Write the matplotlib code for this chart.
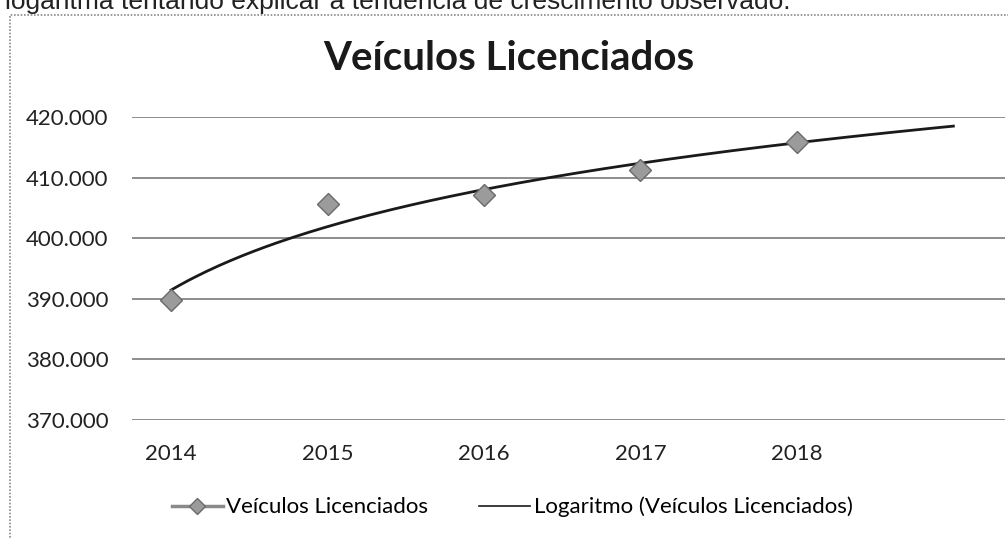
import numpy as np
import matplotlib
matplotlib.use("Agg")
import matplotlib.pyplot as plt
from matplotlib.lines import Line2D
from matplotlib.patches import Rectangle
from matplotlib.ticker import FuncFormatter

# ---- dados ----
anos = [2014, 2015, 2016, 2017, 2018]
veiculos = [389800, 405600, 407100, 411200, 415800]
ticks_y = [370000, 380000, 390000, 400000, 410000, 420000]
titulo = "Veículos Licenciados"
nome_serie = "Veículos Licenciados"
nome_tendencia = "Logaritmo (Veículos Licenciados)"
texto_topo = "logaritma tentando explicar a tendência de crescimento observado."

plt.rcParams["font.family"] = ["Lato", "DejaVu Sans"]

fig = plt.figure(figsize=(10.08, 5.39), dpi=100)
ax = fig.add_axes([132 / 1008, 1 - 420 / 539, (1005 - 132) / 1008, (420 - 117) / 539])

# tendência logarítmica (como no Excel: x = 1..n, previsão de 1 período)
idx = np.arange(1, len(anos) + 1)
a, b = np.polyfit(np.log(idx), veiculos, 1)
xt = np.linspace(1, len(anos) + 1, 200)
ax.plot(anos[0] - 1 + xt, a * np.log(xt) + b, color="#1a1a1a", lw=2, zorder=3)

ax.plot(anos, veiculos, ls="none", marker="D", ms=11, mfc="#9b9b9b",
        mec="#6a6a6a", mew=1, zorder=4)

ax.set_xlim(2013.75, 2019.33)
ax.set_ylim(ticks_y[0], ticks_y[-1])
ax.set_yticks(ticks_y)
ax.yaxis.set_major_formatter(FuncFormatter(lambda v, p: f"{v:,.0f}".replace(",", ".")))
ax.set_xticks(anos)
ax.set_xticklabels([str(a_) for a_ in anos])
ax.tick_params(length=0, labelsize=16, colors="#222222")
ax.tick_params(axis="y", pad=17)
ax.tick_params(axis="x", pad=17)
ax.grid(axis="y", color="#7a7a7a", lw=1.2)
ax.set_axisbelow(True)
for s in ax.spines.values():
    s.set_visible(False)

fig.text(509 / 1008, 1 - 59 / 539, titulo, ha="center", va="center",
         fontsize=29, fontweight="bold", color="#1a1a1a")

# texto cortado do documento digitalizado (topo da página)
fig.text(0.005, 1 - 9 / 539, texto_topo, ha="left", va="baseline", fontsize=19,
         family=["Liberation Sans", "DejaVu Sans"], color="#222222")

# moldura do gráfico
fig.patches.append(Rectangle((10 / 1008, -0.05), 1.1, 1 - 15 / 539 + 0.05,
                             transform=fig.transFigure, fill=False,
                             edgecolor="#8a8a8a", lw=1.2, ls=(0, (1, 1))))

handles = [
    Line2D([], [], color="#8a8a8a", lw=2.5, marker="D", ms=8, mfc="#9b9b9b", mec="#6a6a6a"),
    Line2D([], [], color="#1a1a1a", lw=1.2),
]
fig.legend(handles, [nome_serie, nome_tendencia], loc="center",
           bbox_to_anchor=(512 / 1008, 1 - 507 / 539), ncol=2, frameon=False,
           fontsize=16, handlelength=2.3, handletextpad=0.15, columnspacing=2.3)

fig.savefig("out.png", dpi=100)
